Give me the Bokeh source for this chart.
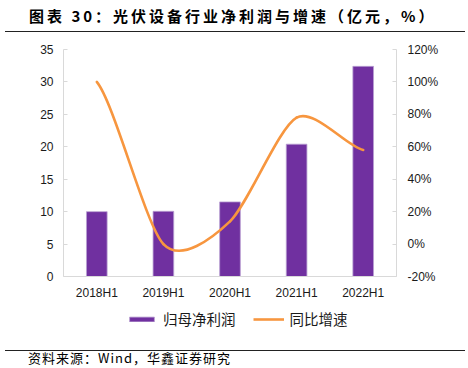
from bokeh.plotting import figure
from bokeh.models import (Range1d, LinearAxis, FixedTicker, NumeralTickFormatter,
                          Legend, LegendItem, Div, ColumnDataSource)
from bokeh.layouts import column
from bokeh.embed import file_html
from bokeh.resources import INLINE

# ---- data ----
categories = ["2018H1", "2019H1", "2020H1", "2021H1", "2022H1"]
net_profit = [10.0, 10.05, 11.5, 20.4, 32.4]        # 亿元
yoy_growth = [1.00, 0.00, 0.14, 0.78, 0.58]          # 同比增速
left_ticks = [0, 5, 10, 15, 20, 25, 30, 35]
right_ticks = [-0.2, 0.0, 0.2, 0.4, 0.6, 0.8, 1.0, 1.2]

TITLE = "图表 30：光伏设备行业净利润与增速（亿元，%）"
SOURCE = "资料来源：Wind，华鑫证券研究"
BAR_NAME = "归母净利润"
LINE_NAME = "同比增速"

BAR_COLOR = "#7030A0"
BAR_EDGE = "#B9A0D2"
LINE_COLOR = "#F7963F"
AXIS_COLOR = "#D9D9D9"
CJK = "Noto Sans CJK SC"
LAT = "Liberation Sans"
SMOOTH = 0.8   # tension of the smoothed line
NAN = float("nan")

xs = list(range(len(categories)))

p = figure(width=460, height=270, output_backend="svg", toolbar_location=None,
           x_range=Range1d(-0.5, len(categories) - 0.5),
           y_range=Range1d(left_ticks[0], left_ticks[-1]),
           min_border_left=63, min_border_right=64, min_border_top=12,
           min_border_bottom=31)
p.extra_y_ranges = {"pct": Range1d(right_ticks[0], right_ticks[-1])}
p.outline_line_color = None
p.xgrid.visible = False
p.ygrid.visible = False

bars = p.vbar(x=xs, top=net_profit, width=0.31, fill_color=BAR_COLOR,
              line_color=BAR_EDGE, line_width=0.8)

# smooth (Excel-like) curve through the growth points, drawn as cubic Beziers
n = len(yoy_growth)
tang = []
for i in range(n):
    a = yoy_growth[max(i - 1, 0)]
    b = yoy_growth[min(i + 1, n - 1)]
    tang.append(SMOOTH * (b - a) / 2.0)
seg = dict(x0=[], y0=[], x1=[], y1=[], cx0=[], cy0=[], cx1=[], cy1=[])
for i in range(n - 1):
    seg["x0"].append(xs[i]); seg["y0"].append(yoy_growth[i])
    seg["x1"].append(xs[i + 1]); seg["y1"].append(yoy_growth[i + 1])
    seg["cx0"].append(xs[i] + SMOOTH / 3); seg["cy0"].append(yoy_growth[i] + tang[i] / 3)
    seg["cx1"].append(xs[i + 1] - SMOOTH / 3); seg["cy1"].append(yoy_growth[i + 1] - tang[i + 1] / 3)
p.bezier(x0="x0", y0="y0", x1="x1", y1="y1", cx0="cx0", cy0="cy0",
         cx1="cx1", cy1="cy1", source=ColumnDataSource(seg),
         line_color=LINE_COLOR, line_width=2.6, line_cap="round",
         y_range_name="pct")

def style_axis(ax):
    ax.axis_line_color = AXIS_COLOR
    ax.axis_line_width = 1
    ax.major_tick_line_color = AXIS_COLOR
    ax.major_tick_in = 4
    ax.major_tick_out = 0
    ax.minor_tick_line_color = None
    ax.major_label_text_font = LAT
    ax.major_label_text_font_size = "12px"
    ax.major_label_text_color = "#1a1a1a"

xa = p.xaxis[0]
style_axis(xa)
xa.major_tick_line_color = None
xa.ticker = FixedTicker(ticks=xs)
xa.major_label_overrides = {i: c for i, c in zip(xs, categories)}
xa.major_label_standoff = 9

ya = p.yaxis[0]
style_axis(ya)
ya.ticker = FixedTicker(ticks=left_ticks)
ya.major_label_standoff = 10

ra = LinearAxis(y_range_name="pct", ticker=FixedTicker(ticks=right_ticks),
                formatter=NumeralTickFormatter(format="0%"))
style_axis(ra)
ra.major_label_standoff = 11
p.add_layout(ra, "right")

# ---- legend strip (its own small figure, so nothing gets clipped) ----
lg = figure(width=460, height=38, output_backend="svg", toolbar_location=None,
            x_range=Range1d(0, 1), y_range=Range1d(0, 1),
            x_axis_type=None, y_axis_type=None,
            min_border_left=0, min_border_right=0, min_border_top=0,
            min_border_bottom=12)
lg.outline_line_color = None
lg.xgrid.visible = False
lg.ygrid.visible = False
lg_bar = lg.vbar(x=[NAN], top=[NAN], width=0.3, fill_color=BAR_COLOR,
                 line_color=BAR_EDGE, line_width=0.8)
lg_line = lg.line(x=[NAN], y=[NAN], line_color=LINE_COLOR, line_width=2.6)
legend = Legend(items=[LegendItem(label=BAR_NAME, renderers=[lg_bar]),
                       LegendItem(label=LINE_NAME, renderers=[lg_line])],
                orientation="horizontal", location=(63, 4),
                glyph_width=31, glyph_height=6, label_height=14,
                label_standoff=6, spacing=17, padding=0, margin=0,
                label_text_font=CJK, label_text_font_size="14.5px",
                label_text_color="#1a1a1a", border_line_color=None,
                background_fill_alpha=0)
lg.add_layout(legend, "center")

title_div = Div(
    text=(f'<div style="font-family:\'{CJK}\';font-weight:bold;font-size:15px;'
          f'letter-spacing:3px;color:#000;padding-left:24px;padding-top:2px;'
          f'line-height:18px;white-space:nowrap;margin:0;">{TITLE}</div>'),
    width=460, height=27,
    styles={"border-bottom": "1px solid #222"})

source_div = Div(
    text=(f'<div style="font-family:\'{CJK}\';font-size:13px;letter-spacing:1px;'
          f'color:#000;padding-left:23px;padding-top:0px;line-height:14px;'
          f'white-space:nowrap;margin:0;">{SOURCE}</div>'),
    width=460, height=21,
    styles={"border-top": "1px solid #222"})

layout = column(title_div, p, lg, source_div, spacing=0)

open("out.html", "w").write(file_html(layout, INLINE))
